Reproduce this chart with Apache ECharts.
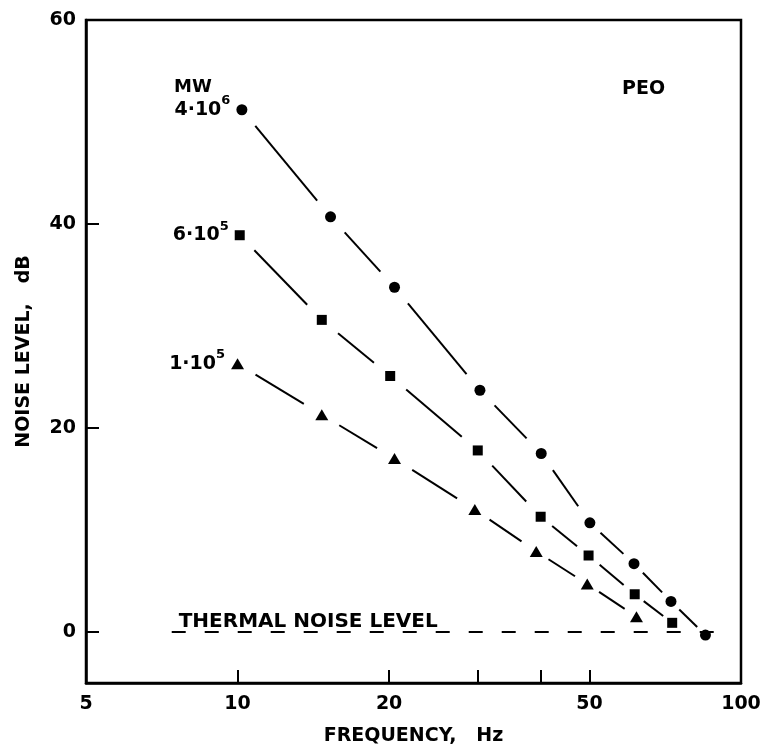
<!DOCTYPE html>
<html>
<head>
<meta charset="utf-8">
<script src="https://cdn.jsdelivr.net/npm/echarts@6/dist/echarts.min.js"></script>
<style>
html, body { margin: 0; background: #fff; }
#chart { width: 764px; height: 748px; }
</style>
</head>
<body>
<div id="chart"></div>
<script>
// values: frequency (Hz), noise level (dB)
var freq4e6 = [10.2, 15.3, 20.5, 30.3, 40.1, 50.1, 61.3, 72.6, 85];
var noise4e6 = [51.2, 40.7, 33.8, 23.7, 17.5, 10.7, 6.7, 3.0, -0.3];
var freq6e5 = [10.1, 14.7, 20.1, 30, 40, 49.8, 61.5, 73];
var noise6e5 = [38.9, 30.6, 25.1, 17.8, 11.3, 7.5, 3.7, 0.9];
var freq1e5 = [10, 14.7, 20.5, 29.6, 39.2, 49.5, 62];
var noise1e5 = [26.3, 21.3, 17.0, 12.0, 7.9, 4.7, 1.5];
var thermalFreq = [7.4, 95];
var thermalLevel = [0, 0];

var xLabelValues = [5, 10, 20, 50, 100];
var xTickValues = [10, 20, 30, 40, 50];
var yTickValues = [0, 20, 40, 60];

var FONT = 'DejaVu Sans';

function pts(f, v) {
    return f.map(function (x, i) { return [x, v[i]]; });
}
function segs(f, v) {
    var out = [];
    for (var i = 0; i < f.length - 1; i++) out.push([f[i], v[i], f[i + 1], v[i + 1]]);
    return out;
}

// line pieces between markers, cut short near each marker like the original
function gapLine(params, api) {
    var a = api.coord([api.value(0), api.value(1)]);
    var b = api.coord([api.value(2), api.value(3)]);
    var dx = b[0] - a[0], dy = b[1] - a[1];
    var len = Math.sqrt(dx * dx + dy * dy);
    var gap = Math.min(21, len * 0.24);
    var ux = dx / len, uy = dy / len;
    return {
        type: 'line',
        shape: { x1: a[0] + ux * gap, y1: a[1] + uy * gap, x2: b[0] - ux * gap, y2: b[1] - uy * gap },
        style: { stroke: '#000', lineWidth: 2 }
    };
}

function segSeries(f, v) {
    return {
        type: 'custom',
        renderItem: gapLine,
        encode: { x: [0, 2], y: [1, 3] },
        data: segs(f, v),
        silent: true,
        z: 2
    };
}

var rich = {
    b: { fontFamily: FONT, fontWeight: 'bold', fontSize: 19, color: '#000', padding: [6, 0, 0, 0] },
    s: { fontFamily: FONT, fontWeight: 'bold', fontSize: 13, color: '#000', verticalAlign: 'top' }
};

function markSeries(f, v, symbol, size, mwText, mwExp) {
    return {
        type: 'scatter',
        data: pts(f, v),
        symbol: symbol,
        symbolSize: size,
        itemStyle: { color: '#000', opacity: 1 },
        z: 3,
        label: {
            show: true,
            position: 'left',
            distance: 6,
            offset: [0, -3],
            rich: rich,
            formatter: function (p) {
                return p.dataIndex === 0 ? '{b|' + mwText + '}{s|' + mwExp + '}' : '';
            }
        }
    };
}

var chart = echarts.init(document.getElementById('chart'));

var option = {
    backgroundColor: '#fff',
    animation: false,
    title: [
        { text: 'MW', left: 169, top: 73, textStyle: { fontFamily: FONT, fontWeight: 'bold', fontSize: 18, color: '#000' } },
        { text: 'PEO', left: 617, top: 75, textStyle: { fontFamily: FONT, fontWeight: 'bold', fontSize: 19, color: '#000' } }
    ],
    grid: {
        left: 86, right: 23, top: 20, bottom: 65,
        outerBoundsMode: 'none',
        containLabel: false,
        show: true, borderColor: '#000', borderWidth: 2.5
    },
    xAxis: {
        type: 'log',
        logBase: 10,
        min: 5,
        max: 100,
        name: 'FREQUENCY,   Hz',
        nameLocation: 'middle',
        nameGap: 44,
        nameTextStyle: { fontFamily: FONT, fontWeight: 'bold', fontSize: 19, color: '#000' },
        axisLine: { onZero: false, lineStyle: { color: '#000', width: 2.5 } },
        axisTick: { inside: true, length: 13, customValues: xTickValues, lineStyle: { color: '#000', width: 2 } },
        minorTick: { show: false },
        axisLabel: {
            customValues: xLabelValues,
            margin: 12,
            fontFamily: FONT, fontWeight: 'bold', fontSize: 19, color: '#000'
        },
        splitLine: { show: false }
    },
    yAxis: {
        type: 'value',
        min: -5,
        max: 60,
        name: 'NOISE LEVEL,   dB',
        nameLocation: 'middle',
        nameRotate: 90,
        nameGap: 52,
        nameTextStyle: { fontFamily: FONT, fontWeight: 'bold', fontSize: 19, color: '#000' },
        axisLine: { onZero: false, lineStyle: { color: '#000', width: 2.5 } },
        axisTick: { inside: true, length: 13, customValues: yTickValues, lineStyle: { color: '#000', width: 2 } },
        axisLabel: {
            customValues: yTickValues,
            margin: 10,
            fontFamily: FONT, fontWeight: 'bold', fontSize: 19, color: '#000'
        },
        splitLine: { show: false }
    },
    series: [
        {
            type: 'line',
            data: pts(thermalFreq, thermalLevel),
            symbol: 'circle',
            symbolSize: 0,
            showSymbol: true,
            lineStyle: { color: '#000', width: 1.8, type: [14, 19] },
            z: 1,
            label: {
                show: true,
                position: 'top',
                align: 'left',
                distance: 0,
                offset: [7, 0],
                fontFamily: FONT, fontWeight: 'bold', fontSize: 20, color: '#000',
                formatter: function (p) { return p.dataIndex === 0 ? 'THERMAL NOISE LEVEL' : ''; }
            }
        },
        segSeries(freq4e6, noise4e6),
        segSeries(freq6e5, noise6e5),
        segSeries(freq1e5, noise1e5),
        markSeries(freq4e6, noise4e6, 'circle', 11, '4·10', '6'),
        markSeries(freq6e5, noise6e5, 'rect', 10, '6·10', '5'),
        markSeries(freq1e5, noise1e5, 'triangle', [13, 11], '1·10', '5')
    ]
};

chart.setOption(option);
</script>
</body>
</html>
